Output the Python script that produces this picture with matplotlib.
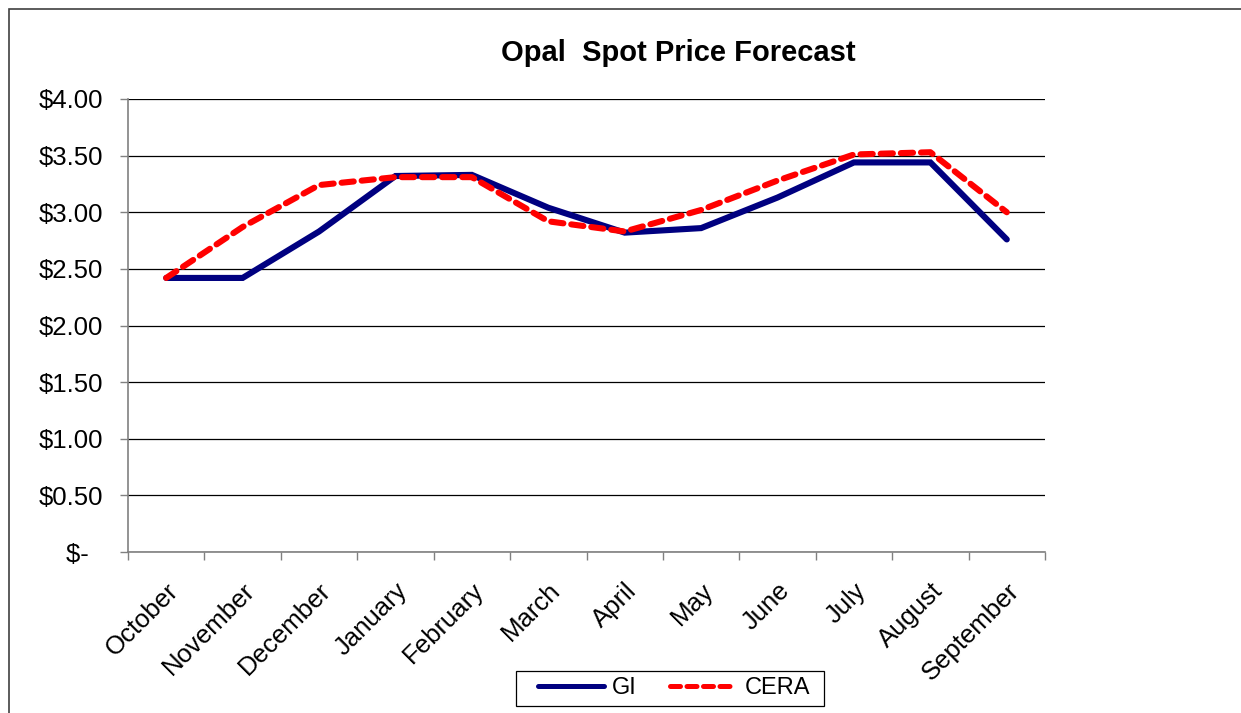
import numpy as np
import matplotlib.pyplot as plt
from matplotlib.patches import Rectangle

plt.rcParams['font.family'] = ['Liberation Sans', 'DejaVu Sans']

months = ['October', 'November', 'December', 'January', 'February', 'March',
          'April', 'May', 'June', 'July', 'August', 'September']
gi = [2.42, 2.42, 2.83, 3.32, 3.33, 3.04, 2.82, 2.86, 3.13, 3.44, 3.44, 2.76]
cera = [2.42, 2.87, 3.24, 3.31, 3.31, 2.92, 2.83, 3.02, 3.28, 3.51, 3.53, 3.00]
yticks = [0, 0.5, 1.0, 1.5, 2.0, 2.5, 3.0, 3.5, 4.0]
ylabels = ['$-  ', '$0.50', '$1.00', '$1.50', '$2.00', '$2.50', '$3.00', '$3.50', '$4.00']

fig = plt.figure(figsize=(12.41, 7.13), dpi=100)
ax = fig.add_axes([128/1241, 1 - 552/713, (1045 - 128)/1241, (552 - 99)/713])

# outer chart border
fig.patches.append(Rectangle((9/1241, -0.01), 1.02, 1 - 9/713 + 0.01,
                             transform=fig.transFigure, fill=False,
                             edgecolor='#404040', linewidth=1.2))

x = np.arange(len(months))
l1, = ax.plot(x, gi, color='#000080', linewidth=4.4, solid_capstyle='round',
              solid_joinstyle='miter', label='GI')
l2, = ax.plot(x, cera, color='#ff0000', linewidth=4.4, linestyle=(0, (2.0, 1.3)),
              dash_capstyle='round', label='CERA')

ax.set_xlim(-0.5, len(months) - 0.5)
ax.set_ylim(0, 4.0)
ax.set_yticks(yticks)
ax.set_yticklabels(ylabels, fontsize=18.5)
ax.yaxis.grid(True, color='black', linewidth=0.9)
ax.set_axisbelow(True)

ax.set_xticks(np.arange(-0.5, len(months), 1.0))
ax.set_xticklabels([])
ax.set_xticks(x, minor=True)
ax.set_xticklabels(months, minor=True, rotation=45, ha='right', va='top',
                   rotation_mode='anchor', fontsize=18.5)
ax.tick_params(axis='x', which='minor', length=0, pad=19)
ax.tick_params(axis='x', which='major', length=6, color='#808080', width=1)
ax.tick_params(axis='y', length=6, color='#808080', width=1, pad=12)

for s in ['top', 'right']:
    ax.spines[s].set_visible(False)
for s in ['left', 'bottom']:
    ax.spines[s].set_color('#808080')
    ax.spines[s].set_linewidth(1.2)

fig.text(678/1241, 1 - 53/713, 'Opal  Spot Price Forecast', fontsize=21,
         fontweight='bold', ha='center', va='center')

# legend box drawn separately so its size matches the original
fig.patches.append(Rectangle((516/1241, 1 - 706/713), 308/1241, 35/713,
                             transform=fig.transFigure, fill=False,
                             edgecolor='black', linewidth=0.9))
leg = fig.legend(handles=[l1, l2], loc='center', ncol=2,
                 bbox_to_anchor=(674/1241, 1 - 688.5/713), fontsize=17,
                 frameon=False, handlelength=2.8, columnspacing=1.4,
                 handletextpad=0.35, borderpad=0, borderaxespad=0)
for h in leg.get_lines():
    h.set_linewidth(3.6)

fig.savefig('out.png', dpi=100)
